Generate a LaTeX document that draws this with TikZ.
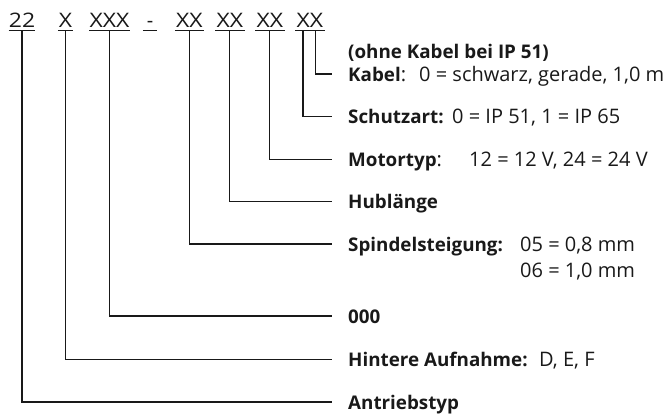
\documentclass[tikz,border=0pt]{standalone}
\usepackage{fontspec}
\setmainfont{Open Sans}
\newcommand{\lb}[1]{{\fontsize{18.8}{23}\selectfont\bfseries #1}}
\newcommand{\cw}[1]{\scalebox{1.15}[1]{#1}}
\begin{document}
\begin{tikzpicture}[x=1pt,y=-1pt,
  conn/.style={line width=1.1pt,draw=black!90},
  codebox/.style={inner sep=0pt,text height=14pt,text depth=3pt,anchor=base,
    font=\fontsize{20}{23}\selectfont,text=black!90},
  lbl/.style={inner sep=0pt,text height=14pt,text depth=0pt,anchor=west,
    font=\fontsize{20}{23}\selectfont,text=black!90}]
\useasboundingbox (0,0) rectangle (667,416);
% code segments
\node[codebox,minimum width=22pt] (c1) at (22,27) {\cw{22}};
\node[codebox,minimum width=15pt] (c2) at (65.5,27) {\cw{X}};
\node[codebox,minimum width=39pt] (c3) at (109.5,27) {\cw{XXX}};
\node[codebox,minimum width=14pt] (c4) at (150,27) {-};
\node[codebox,minimum width=29pt] (c5) at (189.5,27) {\cw{XX}};
\node[codebox,minimum width=29pt] (c6) at (229.8,27) {\cw{XX}};
\node[codebox,minimum width=29pt] (c7) at (269.8,27) {\cw{XX}};
\node[codebox,minimum width=29pt] (c8) at (309.8,27) {\cw{XX}};
\foreach \c in {c1,c2,c3,c4,c5,c6,c7,c8}
  \draw[conn] (\c.south west) -- (\c.south east);
% labels
\node[lbl] (ohne) at (348,51) {\lb{(ohne Kabel bei IP 51)}};
\node[lbl] (kab) at (348,74) {\makebox[71pt][l]{\lb{Kabel}:}0 = schwarz, gerade, 1,0 m};
\node[lbl] (sch) at (348,116.5) {\makebox[104pt][l]{\lb{Schutzart:}}0 = IP 51, 1 = IP 65};
\node[lbl] (mot) at (348,159.5) {\makebox[121pt][l]{\lb{Motortyp}:}12 = 12 V, 24 = 24 V};
\node[lbl] (hub) at (348,201.5) {\lb{Hublänge}};
\node[lbl] (spi) at (348,244) {\makebox[172pt][l]{\lb{Spindelsteigung:}}05 = 0,8 mm};
\node[lbl] (spi2) at (520,270) {06 = 1,0 mm};
\node[lbl] (nul) at (348,316) {\lb{000}};
\node[lbl] (hin) at (348,359.5) {\makebox[191pt][l]{\lb{Hintere Aufnahme:}}D, E, F};
\node[lbl] (ant) at (348,402) {\lb{Antriebstyp}};
% connectors
\draw[conn] ([xshift=6pt]c8.south) |- ([xshift=-16.3pt]kab.west);
\draw[conn] ([xshift=-6.8pt]c8.south) |- ([xshift=-16.3pt]sch.west);
\draw[conn] (c7.south) |- ([xshift=-16.3pt]mot.west);
\draw[conn] (c6.south) |- ([xshift=-16.3pt]hub.west);
\draw[conn] (c5.south) |- ([xshift=-16.3pt]spi.west);
\draw[conn] (c3.south) |- ([xshift=-16.3pt]nul.west);
\draw[conn] (c2.south) |- ([xshift=-16.3pt]hin.west);
\draw[conn] (c1.south) |- ([xshift=-16.3pt]ant.west);
\end{tikzpicture}
\end{document}
